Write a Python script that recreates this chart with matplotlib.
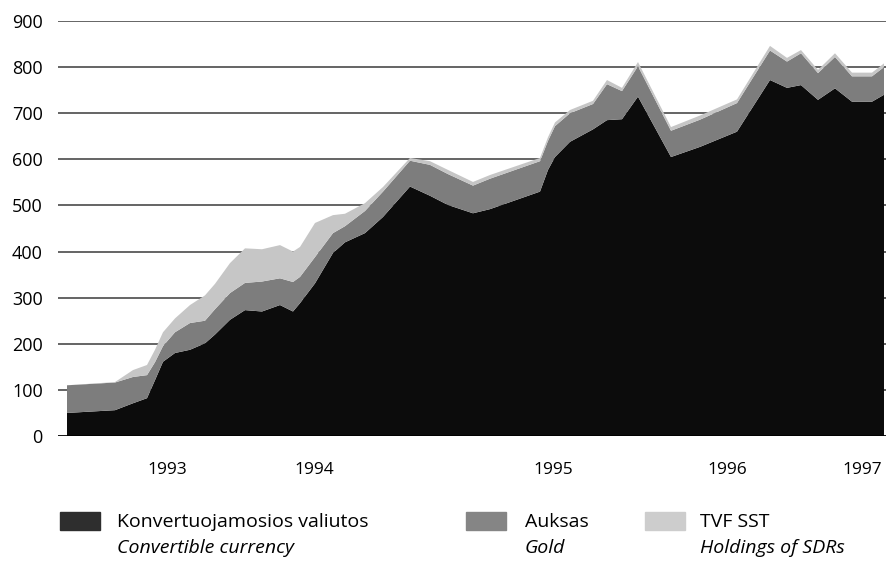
import matplotlib
matplotlib.use("Agg")
import matplotlib.pyplot as plt
from matplotlib.patches import Rectangle

# ---- data (position along the period axis, values in millions) ----
period = [9, 57, 75, 89, 97, 105, 117, 132, 147, 157, 172, 187, 204, 222, 235, 242,
          257, 275, 287, 307, 325, 352, 372, 390, 415, 432, 482, 490, 497, 512, 535,
          549, 564, 580, 613, 642, 679, 712, 729, 743, 760, 777, 794, 814, 826]
currency = [50, 56, 71, 82, 121, 161, 180, 187, 201, 220, 252, 273, 270, 284, 270, 288,
            331, 397, 420, 440, 475, 541, 521, 501, 483, 492, 530, 577, 605, 638, 665,
            685, 687, 736, 605, 627, 660, 772, 755, 761, 729, 754, 725, 725, 740]
gold = [60, 60, 57, 50, 39, 34, 45, 58, 49, 55, 58, 59, 65, 58, 64, 57,
        57, 43, 35, 48, 55, 56, 67, 67, 60, 66, 66, 63, 67, 62, 55,
        78, 61, 66, 57, 59, 62, 64, 57, 69, 58, 68, 55, 55, 60]
sdr = [0, 1, 15, 22, 27, 30, 30, 39, 55, 55, 65, 75, 70, 72, 66, 65,
       74, 39, 27, 17, 10, 6, 8, 9, 8, 8, 7, 8, 8, 7, 7,
       9, 7, 9, 8, 9, 8, 10, 8, 7, 7, 8, 8, 8, 8]

year_pos = [109, 256, 495, 669, 804]
year_labels = ["1993", "1994", "1995", "1996", "1997"]
y_ticks = [0, 100, 200, 300, 400, 500, 600, 700, 800, 900]

legend_top = ["Konvertuojamosios valiutos", "Auksas", "TVF SST"]
legend_bottom = ["Convertible currency", "Gold", "Holdings of SDRs"]

FONT = "Open Sans"
c_cur, c_gold, c_sdr = "#0c0c0c", "#7d7d7d", "#c6c6c6"
leg_cols = ["#2e2e2e", "#858585", "#cdcdcd"]

W, H = 887, 564
fig = plt.figure(figsize=(W / 100, H / 100), dpi=100)
ax = fig.add_axes([58 / W, 1 - 436 / H, 828 / W, 415 / H])

ax.stackplot(period, currency, gold, sdr, colors=[c_cur, c_gold, c_sdr],
             linewidth=0, zorder=2)

ax.set_xlim(0, 828)
ax.set_ylim(0, 900)
for v in y_ticks[1:]:
    ax.axhline(v, color="#3a3a3a", lw=1.1, zorder=1)
ax.axhline(0, color="black", lw=2.0, zorder=3)

for s in ax.spines.values():
    s.set_visible(False)
ax.set_yticks(y_ticks)
ax.set_yticklabels([str(v) for v in y_ticks], fontsize=13, family=FONT)
ax.tick_params(axis="y", length=0, pad=11)
ax.set_xticks(year_pos)
ax.set_xticklabels(year_labels, fontsize=12.5, family=FONT)
ax.tick_params(axis="x", length=0, pad=19)

# legend
patch_x = [60, 466, 645]
text_x = [117, 525, 700]
for i in range(3):
    fig.patches.append(Rectangle((patch_x[i] / W, 1 - 530 / H), 40 / W, 18 / H,
                                 transform=fig.transFigure, color=leg_cols[i]))
    fig.text(text_x[i] / W, 1 - 522 / H, legend_top[i], fontsize=14, family=FONT,
             va="center", ha="left")
    fig.text(text_x[i] / W, 1 - 548 / H, legend_bottom[i], fontsize=14, family=FONT,
             style="italic", va="center", ha="left")

fig.savefig("out.png", dpi=100)
